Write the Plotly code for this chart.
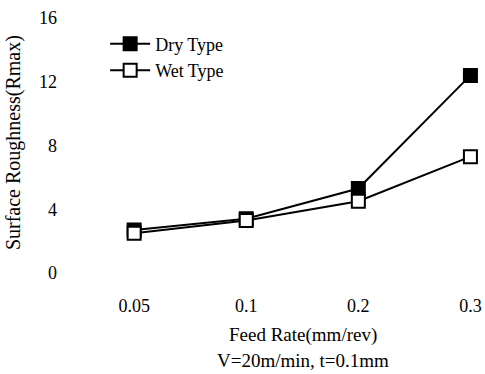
import plotly.graph_objects as go

feed_rates = ["0.05", "0.1", "0.2", "0.3"]
dry_type = [2.7, 3.4, 5.3, 12.4]
wet_type = [2.5, 3.3, 4.5, 7.3]
y_ticks = [0, 4, 8, 12, 16]

FONT = "Liberation Serif, Times New Roman, serif"

fig = go.Figure()
fig.add_trace(go.Scatter(
    x=feed_rates, y=dry_type, name="Dry Type", mode="lines+markers",
    line=dict(color="black", width=2),
    marker=dict(symbol="square", size=13, color="black",
                line=dict(color="black", width=2)),
    cliponaxis=False,
))
fig.add_trace(go.Scatter(
    x=feed_rates, y=wet_type, name="Wet Type", mode="lines+markers",
    line=dict(color="black", width=2),
    marker=dict(symbol="square", size=13, color="white",
                line=dict(color="black", width=2)),
    cliponaxis=False,
))

fig.update_layout(
    width=485, height=374,
    margin=dict(l=77, r=0, t=18, b=101),
    paper_bgcolor="white", plot_bgcolor="white",
    font=dict(family=FONT, size=18, color="black"),
    showlegend=True,
    legend=dict(x=0.069, y=0.97, xanchor="left", yanchor="top",
                bgcolor="rgba(0,0,0,0)", font=dict(size=18),
                itemwidth=40, tracegroupgap=2),
    xaxis=dict(type="category", range=[-0.51, 3.13], showgrid=False,
               zeroline=False, showline=False, ticks="",
               ticklabelstandoff=20, tickfont=dict(size=18)),
    yaxis=dict(range=[0, 16], tickvals=y_ticks, showgrid=False,
               zeroline=False, showline=False, ticks="",
               ticklabelstandoff=19, tickfont=dict(size=18)),
    annotations=[
        dict(text="Surface Roughness(Rmax)", textangle=-90,
             xref="paper", yref="paper", x=-0.154, y=0.51,
             xanchor="center", yanchor="middle", showarrow=False,
             font=dict(size=20)),
        dict(text="Feed Rate(mm/rev)", xref="paper", yref="paper",
             x=0.554, y=-0.245, xanchor="center", yanchor="middle",
             showarrow=False, font=dict(size=19)),
        dict(text="V=20m/min, t=0.1mm", xref="paper", yref="paper",
             x=0.554, y=-0.343, xanchor="center", yanchor="middle",
             showarrow=False, font=dict(size=19)),
    ],
)

fig.write_html("out.html")
